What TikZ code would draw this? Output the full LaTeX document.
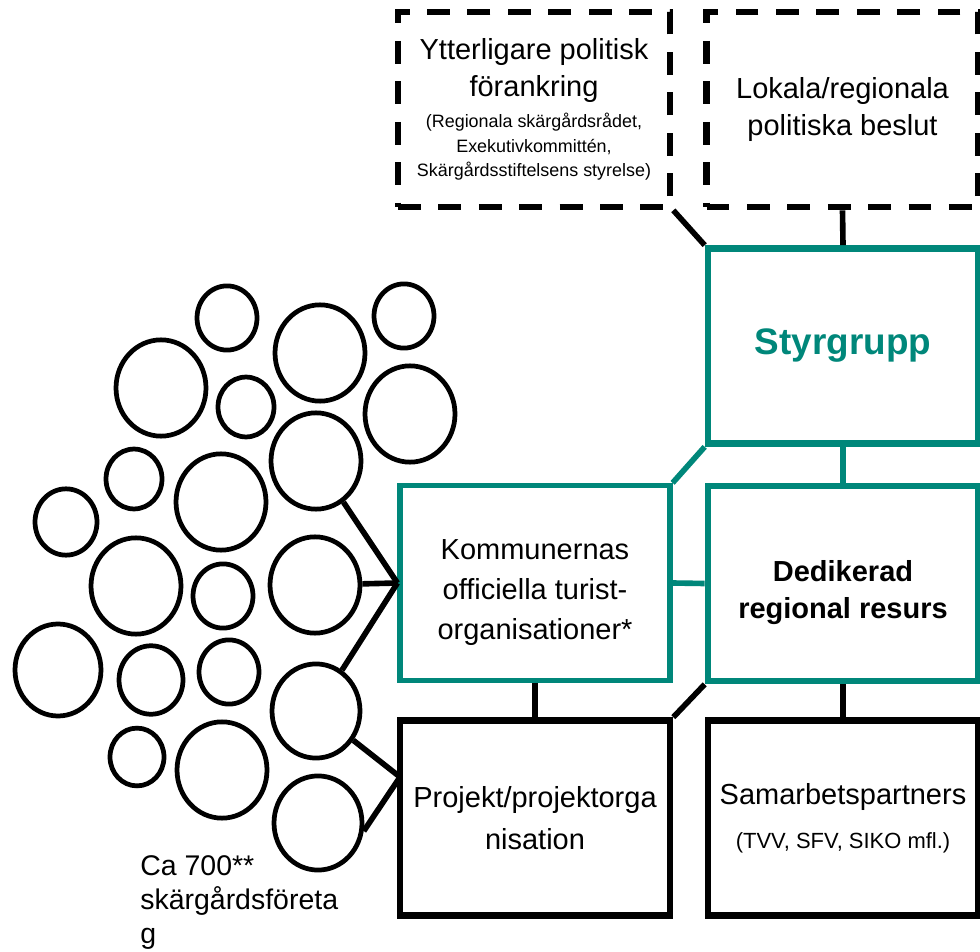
\documentclass[tikz,border=0pt]{standalone}
\usepackage{fontspec}
\setmainfont{Liberation Sans}
\usepackage{tikz}
\usetikzlibrary{shapes.geometric}
\definecolor{kteal}{RGB}{0,135,122}
\tikzset{
  dashbox/.style={draw, line width=3.8pt, dash pattern=on 13pt off 10pt, minimum width=5.44cm, minimum height=3.9cm, align=center, inner sep=0pt},
  tealbox/.style={draw=kteal, line width=3.8pt, minimum width=5.4cm, minimum height=3.9cm, align=center, inner sep=0pt},
  blackbox/.style={draw, line width=3.8pt, minimum width=5.4cm, minimum height=3.9cm, align=center, inner sep=0pt},
  link/.style={line width=3.2pt},
  firm/.style={ellipse, draw, line width=2.7pt, inner sep=0pt}
}
\newcommand{\mtxt}{\fontsize{16.5}{21}\selectfont}
\newcommand{\wtxt}{\fontsize{16.5}{22.8}\selectfont}
\newcommand{\stxt}{\fontsize{10.2}{12.5}\selectfont}
\newcommand{\lowstrut}{\rule{0pt}{22pt}}
\begin{document}
\begin{tikzpicture}[x=0.02cm, y=-0.02cm]
      \useasboundingbox (0,0) rectangle (980,952);
      \node[name=yt, dashbox, font=\mtxt] at (534,109.5) {Ytterligare politisk\\ förankring\\[-3pt] \stxt (Regionala skärgårdsrådet,\\[-7pt] \stxt Exekutivkommittén,\\[-7pt] \stxt Skärgårdsstiftelsens styrelse)};
      \node[name=lok, dashbox, font=\mtxt] at (842.5,109.5) {Lokala/regionala\\ politiska beslut};
      \node[name=styr, tealbox, text=kteal, font=\bfseries\fontsize{21}{25}\selectfont] at (843,346) {Styrgrupp};
      \node[name=kom, tealbox, line width=3pt, font=\wtxt] at (535,583) {\lowstrut Kommunernas\\ officiella turist-\\ organisationer*};
      \node[name=ded, tealbox, font=\bfseries\mtxt] at (843,583.5) {\lowstrut Dedikerad\\ regional resurs};
      \node[name=proj, blackbox, font=\wtxt] at (535,818) {Projekt/projektorga\\[1pt] nisation};
      \node[name=sam, blackbox, font=\mtxt] at (843,818) {Samarbetspartners\\[4pt] \fontsize{12.5}{15}\selectfont (TVV, SFV, SIKO mfl.)};
      \node[name=antal, anchor=north west, align=left, inner sep=0pt, font=\fontsize{16.2}{19.5}\selectfont] at (140,855) {Ca 700**\\ skärgårdsföreta\\ g};
      % the companies
      \foreach \i/\cx/\cy/\r in {1/227/318/30, 2/320/353/45, 3/404/316/30, 4/161/388/45, 5/246/407/28,
          6/410/414/45, 7/316/461/45, 8/134/479/28, 9/221/502/45, 10/66/522/31,
          11/136/586/45, 12/223/596/30, 13/315/585/45, 14/58/670/43, 15/151/680/32,
          16/229/672/30, 17/316/711/44, 18/137/757/27, 19/222/770/45, 20/318/823/44}
        \node[name=c\i, firm, minimum width=\r*0.4mm, minimum height=\r*0.428mm] at (\cx,\cy) {};
      \coordinate (projin) at (400,777);
      \draw[link] (lok.south) -- (styr.north);
      \draw[link] (yt.south east) -- (styr.north west);
      \draw[link, kteal] (styr.south) -- (ded.north);
      \draw[link, kteal] (kom.north east) -- (styr.south west);
      \draw[link, kteal] (kom.east) -- (ded.west);
      \draw[link] (kom.south) -- (proj.north);
      \draw[link] (ded.south west) -- (proj.north east);
      \draw[link] (ded.south) -- (sam.north);
      \draw[link] (c7) -- (kom.west);
      \draw[link] (c13) -- (kom.west);
      \draw[link] (c17) -- (kom.west);
      \draw[link] (c17) -- (projin);
      \draw[link] (c20.-10) -- (projin);
\end{tikzpicture}
\end{document}
